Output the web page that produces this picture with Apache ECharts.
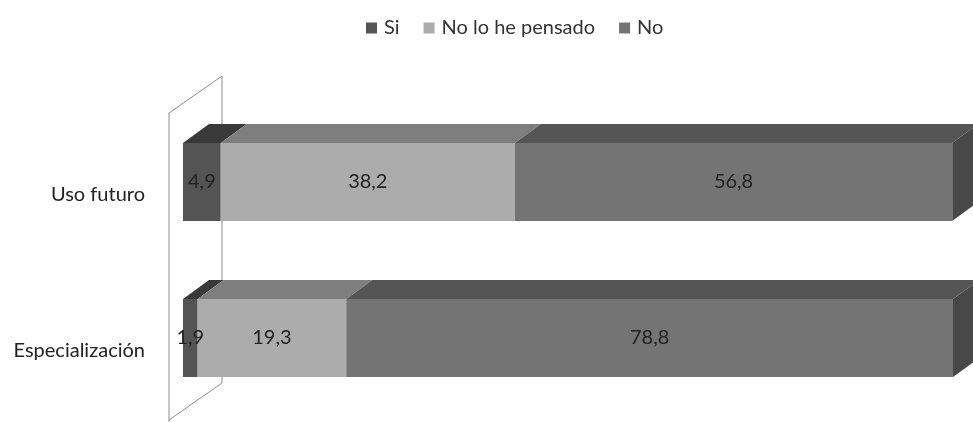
<!DOCTYPE html>
<html>
<head>
<meta charset="utf-8">
<script src="https://cdn.jsdelivr.net/npm/echarts@6/dist/echarts.min.js"></script>
<style>
  html, body { margin: 0; padding: 0; background: #fff; }
  #chart { width: 973px; height: 422px; }
</style>
</head>
<body>
<div id="chart"></div>
<script>
// Categories (top to bottom) and the three stacked answers, in percent
const categories = ['Uso futuro', 'Especialización'];
const seriesNames = ['Si', 'No lo he pensado', 'No'];
const si = [4.9, 1.9];
const noLoHePensado = [38.2, 19.3];
const no = [56.8, 78.8];

const values = [si, noLoHePensado, no];
const frontColors = ['#545454', '#acacac', '#747474'];
const topColors = ['#393939', '#7e7e7e', '#555555'];
const sideColor = '#484848';
const DX = 26, DY = 19;   // depth offset of the extruded bars
const FONT = 'Lato, "Open Sans", sans-serif';
const FONT_SIZE = 20;

// Segments [start, end, categoryIndex, seriesIndex] for the top / side faces
const segments = [];
categories.forEach((c, ci) => {
  let acc = 0;
  values.forEach((arr, s) => {
    segments.push([acc, acc + arr[ci], ci, s]);
    acc += arr[ci];
  });
});

const fmt = v => String(v).replace('.', ',');

const chart = echarts.init(document.getElementById('chart'), null, { renderer: 'canvas' });

const barSeries = seriesNames.map((name, i) => ({
  name: name,
  type: 'bar',
  stack: 'total',
  barWidth: '50%',
  z: 3,
  itemStyle: { color: frontColors[i] },
  label: {
    show: true,
    position: 'inside',
    color: '#222',
    fontFamily: FONT,
    fontSize: FONT_SIZE,
    formatter: p => fmt(p.value)
  },
  emphasis: { disabled: true },
  data: values[i]
}));

// Extruded top faces and the right-hand side face of each bar
const depthSeries = {
  name: 'depth',
  type: 'custom',
  z: 2,
  silent: true,
  encode: { x: [0, 1], y: 2 },
  renderItem: function (params, api) {
    const start = api.value(0), end = api.value(1), ci = api.value(2), s = api.value(3);
    const p0 = api.coord([start, ci]);
    const p1 = api.coord([end, ci]);
    const h = api.size([0, 1])[1] * 0.5;
    const yTop = p0[1] - h / 2, yBot = p0[1] + h / 2;
    const children = [{
      type: 'polygon',
      shape: { points: [[p0[0], yTop], [p1[0], yTop], [p1[0] + DX, yTop - DY], [p0[0] + DX, yTop - DY]] },
      style: { fill: topColors[s] }
    }];
    if (s === values.length - 1) {
      children.push({
        type: 'polygon',
        shape: { points: [[p1[0], yTop], [p1[0] + DX, yTop - DY], [p1[0] + DX, yBot - DY], [p1[0], yBot]] },
        style: { fill: sideColor }
      });
    }
    return { type: 'group', children: children };
  },
  data: segments
};

// Side wall behind the category axis
const wallSeries = {
  name: 'wall',
  type: 'custom',
  z: 1,
  silent: true,
  renderItem: function (params, api) {
    const cs = params.coordSys;
    const x0 = api.coord([0, 0])[0];
    const fx = x0 - 14, bx = x0 + 39;
    const top = cs.y, bottom = cs.y + cs.height;
    return {
      type: 'polyline',
      shape: { points: [[fx, bottom + 12], [fx, top + 9], [bx, top - 28], [bx, bottom - 33], [fx, bottom + 4]] },
      style: { stroke: '#8c8c8c', lineWidth: 1, fill: null }
    };
  },
  data: [[0, 0]]
};

chart.setOption({
  animation: false,
  backgroundColor: '#ffffff',
  legend: {
    data: seriesNames,
    top: 13,
    left: 361,
    icon: 'rect',
    itemWidth: 11,
    itemHeight: 11,
    itemGap: 24,
    textStyle: { fontFamily: FONT, fontSize: FONT_SIZE, color: '#333', padding: [0, 0, 0, 2] }
  },
  grid: { left: 183, right: 20, top: 104, bottom: 6, containLabel: false },
  xAxis: { type: 'value', min: 0, max: 100, show: false },
  yAxis: {
    type: 'category',
    inverse: true,
    data: categories,
    axisLine: { show: false },
    axisTick: { show: false },
    splitLine: { show: false },
    axisLabel: {
      margin: 38,
      color: '#222',
      fontFamily: FONT,
      fontSize: FONT_SIZE,
      lineHeight: 26,
      // blank first line drops the name a little below the bar centre
      formatter: v => '\n' + v
    }
  },
  series: [wallSeries, depthSeries].concat(barSeries)
});
</script>
</body>
</html>
